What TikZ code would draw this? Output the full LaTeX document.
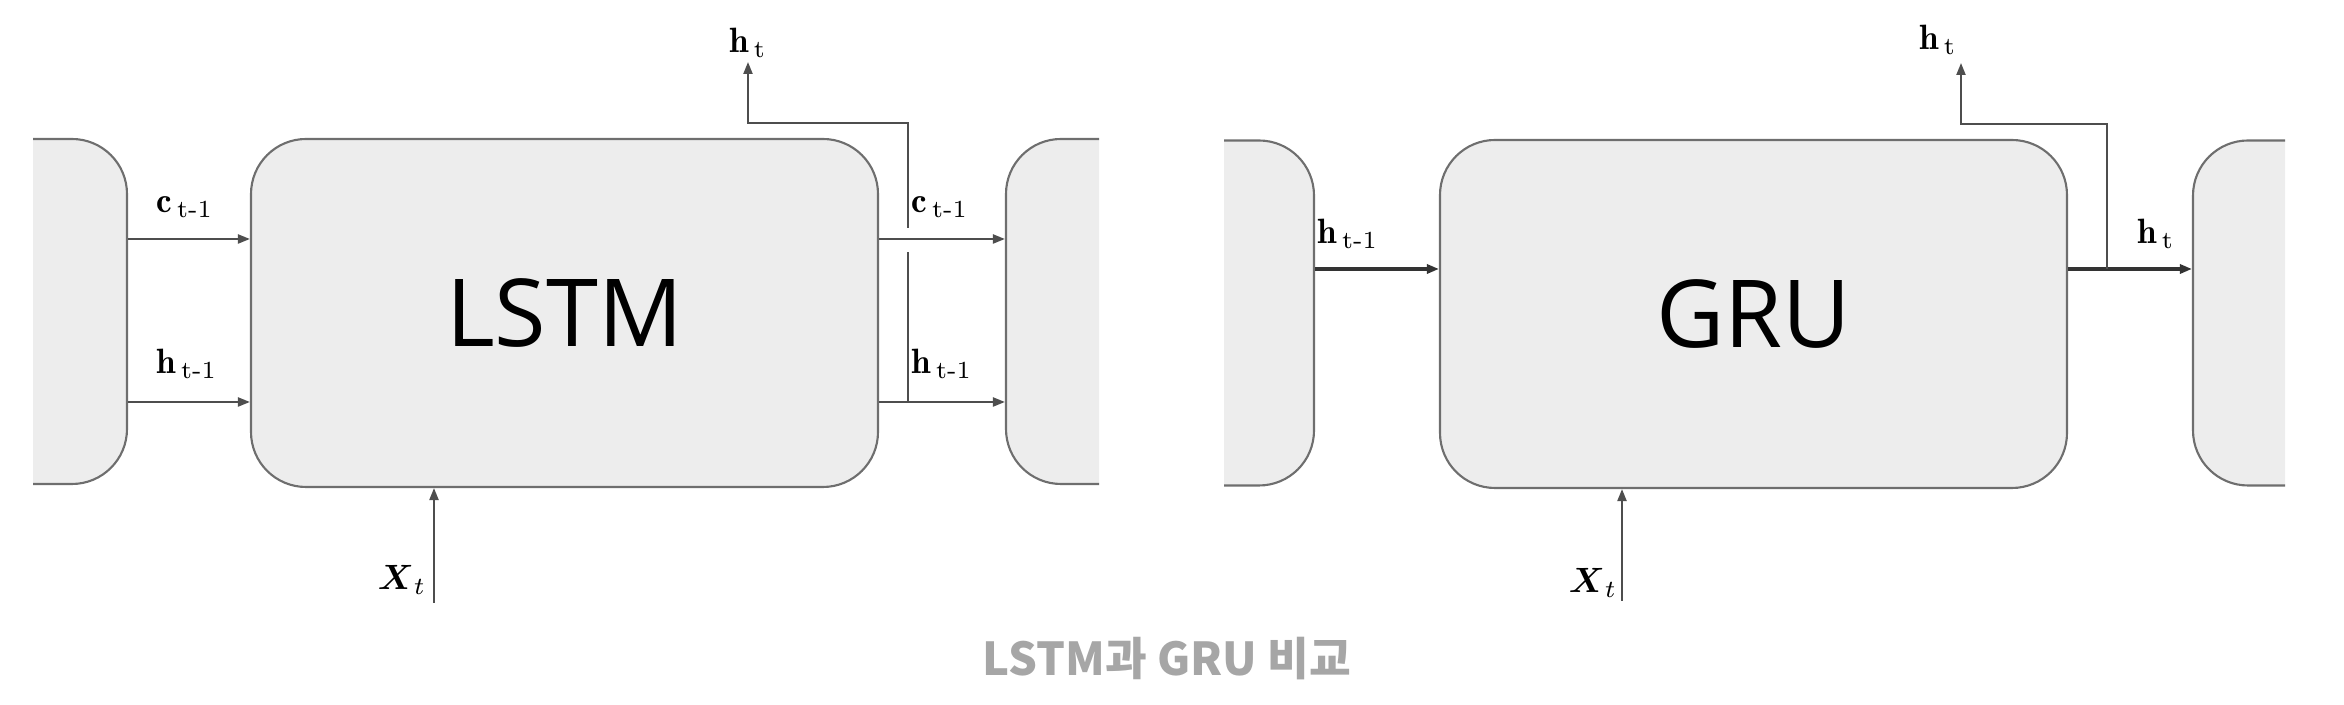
\documentclass[tikz,border=0pt]{standalone}
\usepackage{amsmath}
\usepackage{fontspec}
\newfontfamily\cellfont{Open Sans}
\newfontfamily\capfont{Noto Sans CJK KR}
\usepackage{tikz}
\usetikzlibrary{positioning,arrows.meta}
\definecolor{cellfill}{HTML}{EDEDED}
\definecolor{celldraw}{HTML}{6E6E6E}
\definecolor{wirecol}{HTML}{4E4E4E}
\definecolor{capgray}{HTML}{A6A6A6}

\begin{document}
\begin{tikzpicture}[x=0.1mm, y=-0.1mm,
  cell/.style={draw=celldraw, line width=0.6pt, fill=cellfill, rounded corners=5.5mm, inner sep=0pt,
    minimum width=62.7mm, minimum height=34.8mm, font=\cellfont\fontsize{26.7}{32}\selectfont},
  side/.style={cell, minimum width=20mm, minimum height=34.5mm},
  wire/.style={draw=wirecol, line width=0.6pt},
  heavywire/.style={draw=black!80, line width=0.9pt},
  arr/.style={-{Triangle[length=1.2mm, width=0.9mm]}},
  lbl/.style={font=\normalsize, inner sep=1pt}
]
\useasboundingbox (0,0) rectangle (2344,705);

% --- LSTM: cell, neighbours cut at the picture edge ---
\node[cell] (lstm) at (564.5,313) {LSTM};
\begin{scope}
  \clip (33,0) rectangle (1099,705);
  \node[side] (lprev) at (27,311.5) {};
  \node[side] (lnext) at (1106,311.5) {};
\end{scope}

\coordinate (lc) at (0,239);
\coordinate (lh) at (0,402);
\draw[wire, arr] (lprev.east |- lc) -- (lstm.west |- lc);
\draw[wire, arr] (lprev.east |- lh) -- (lstm.west |- lh);
\draw[wire, arr] (lstm.east |- lc) -- (lnext.west |- lc);
\draw[wire, arr] (lstm.east |- lh) -- (lnext.west |- lh);

% h_t branch (jumps over the c line)
\coordinate (ltap) at (908,402);
\coordinate (lgapb) at (908,252);
\coordinate (lgapt) at (908,228);
\coordinate (lturn) at (908,123);
\node[lbl, anchor=south] (lht) at (748,62) {$\mathbf{h}_{\,\mathrm{t}}$};
\draw[wire] (ltap) -- (lgapb);
\draw[wire, arr] (lgapt) -- (lturn) -| (lht.south);

\node[lbl] (lcin) at (185,207) {$\mathbf{c}_{\,\text{t-1}}$};
\node[lbl] (lhin) at (187,364) {$\mathbf{h}_{\,\text{t-1}}$};
\node[lbl] (lcout) at (940,207) {$\mathbf{c}_{\,\text{t-1}}$};
\node[lbl] (lhout) at (942,364) {$\mathbf{h}_{\,\text{t-1}}$};

\coordinate (lxin) at (434,603);
\node[lbl] (lx) at (402,580) {$\boldsymbol{X}_{t}$};
\draw[wire, arr] (lxin) -- (lstm.south -| lxin);

% --- GRU ---
\node[cell] (gru) at (1753.5,314) {GRU};
\begin{scope}
  \clip (1224,0) rectangle (2285,705);
  \node[side] (gprev) at (1214,313) {};
  \node[side] (gnext) at (2293,313) {};
\end{scope}

\coordinate (gh) at (0,269);
\draw[heavywire, arr] (gprev.east |- gh) -- (gru.west |- gh);
\draw[heavywire, arr] (gru.east |- gh) -- (gnext.west |- gh);

\coordinate (gtap) at (2107,269);
\coordinate (gturn) at (2107,124);
\coordinate (gtop) at (1961,63);
\draw[wire, arr] (gtap) -- (gturn) -| (gtop);
\node[lbl] (ght) at (1938,40) {$\mathbf{h}_{\,\mathrm{t}}$};

\node[lbl] (ghin) at (1348,234) {$\mathbf{h}_{\,\text{t-1}}$};
\node[lbl] (ghout) at (2156,234) {$\mathbf{h}_{\,\mathrm{t}}$};

\coordinate (gxin) at (1622,601);
\node[lbl] (gx) at (1593,583) {$\boldsymbol{X}_{t}$};
\draw[wire, arr] (gxin) -- (gru.south -| gxin);

% --- caption ---
\node[font=\capfont\bfseries\fontsize{12.9}{15}\selectfont, text=capgray, anchor=base, inner sep=0pt]
  (cap) at (1167,676) {LSTM과 GRU 비교};

\end{tikzpicture}
\end{document}
